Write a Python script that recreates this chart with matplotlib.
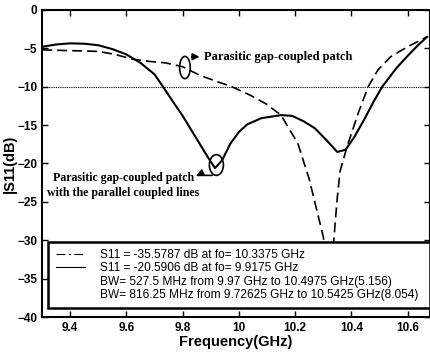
import matplotlib.pyplot as plt
from matplotlib.lines import Line2D
from matplotlib.patches import Ellipse

# Parasitic gap-coupled patch (dashed)
freq_gap = [9.30, 9.40, 9.50, 9.56, 9.62, 9.68, 9.74, 9.80, 9.86, 9.92, 9.975,
            10.04, 10.095, 10.15, 10.21, 10.25, 10.28, 10.30, 10.312, 10.322,
            10.332, 10.342, 10.35, 10.36, 10.385, 10.425, 10.46, 10.495,
            10.54, 10.60, 10.67]
s11_gap = [-5.2, -5.3, -5.4, -5.8, -6.4, -6.7, -6.9, -7.4, -8.5, -9.3, -10.0,
           -11.1, -12.2, -13.7, -17.4, -22.0, -26.5, -29.5, -32.5, -35.6,
           -33.0, -28.0, -24.5, -21.0, -17.8, -13.4, -10.0, -7.8,
           -6.1, -4.8, -3.5]

# Parasitic gap-coupled patch with parallel coupled lines (solid)
freq_pcl = [9.30, 9.35, 9.40, 9.45, 9.50, 9.55, 9.60, 9.65, 9.70, 9.73, 9.77,
            9.80, 9.85, 9.89, 9.915, 9.94, 9.97, 10.00, 10.03, 10.08, 10.15,
            10.19, 10.23, 10.27, 10.31, 10.35, 10.38, 10.41, 10.45, 10.48,
            10.51, 10.56, 10.60, 10.64, 10.67]
s11_pcl = [-4.8, -4.5, -4.35, -4.4, -4.6, -5.1, -5.8, -6.9, -8.4, -10.0, -12.2,
           -13.8, -16.8, -19.2, -20.6, -19.6, -17.4, -15.9, -14.9, -14.1, -13.7,
           -13.8, -14.5, -15.4, -16.9, -18.5, -18.2, -16.6, -14.0, -11.9,
           -10.0, -7.6, -6.0, -4.5, -3.5]

legend_labels = [
    "S11 = -35.5787 dB at fo= 10.3375 GHz",
    "S11 = -20.5906 dB at fo= 9.9175 GHz",
    "BW= 527.5 MHz from 9.97 GHz to 10.4975 GHz(5.156)",
    "BW= 816.25 MHz from 9.72625 GHz to 10.5425 GHz(8.054)",
]
x_ticks = [9.4, 9.6, 9.8, 10, 10.2, 10.4, 10.6]
x_ticklabels = ["9.4", "9.6", "9.8", "10", "10.2", "10.4", "10.6"]
y_ticks = [0, -5, -10, -15, -20, -25, -30, -35, -40]

plt.rcParams["font.family"] = ["Liberation Sans", "DejaVu Sans"]

fig = plt.figure(figsize=(4.3, 3.55), dpi=100)
ax = fig.add_axes([0.098, 0.107, 0.902, 0.865])

ax.plot(freq_gap, s11_gap, color="black", lw=1.2, linestyle=(0, (6, 3)))
ax.plot(freq_pcl, s11_pcl, color="black", lw=1.5)
ax.axhline(-10, color="black", lw=0.8, linestyle=(0, (1, 1)))

ax.set_xlim(9.3, 10.68)
ax.set_ylim(-40, 0)
ax.set_xticks(x_ticks)
ax.set_xticklabels(x_ticklabels)
ax.set_yticks(y_ticks)
ax.tick_params(direction="in", top=True, right=True, labelsize=8.5, length=4, width=1)
for lab in ax.get_xticklabels() + ax.get_yticklabels():
    lab.set_fontweight("bold")
for sp in ax.spines.values():
    sp.set_linewidth(1.5)

ax.set_xlabel("Frequency(GHz)", fontsize=10.5, fontweight="bold", labelpad=1)
ax.set_ylabel("|S11(dB)", fontsize=10.5, fontweight="bold", labelpad=0)

# annotations
serif = dict(fontweight="bold", family="Liberation Serif", va="center")
ax.add_patch(Ellipse((9.808, -7.5), 0.038, 2.9, fill=False, ec="black", lw=1.2))
ax.annotate("", xy=(9.87, -6.1), xytext=(9.822, -6.1),
            arrowprops=dict(arrowstyle="-|>", color="black", lw=1.2))
ax.text(9.875, -6.1, "Parasitic gap-coupled patch", fontsize=9, ha="left", **serif)

ax.add_patch(Ellipse((9.92, -20.2), 0.05, 2.7, fill=False, ec="black", lw=1.2))
ax.annotate("", xy=(9.843, -21.9), xytext=(9.915, -21.55),
            arrowprops=dict(arrowstyle="-|>", color="black", lw=1.2,
                            connectionstyle="angle,angleA=0,angleB=90,rad=3"))
ax.text(9.84, -21.9, "Parasitic gap-coupled patch", fontsize=8.6, ha="right", **serif)
ax.text(9.317, -23.8, "with the parallel coupled lines", fontsize=8.6, ha="left", **serif)

handles = [
    Line2D([], [], color="black", lw=0.8, linestyle=(0, (8, 3, 2, 3))),
    Line2D([], [], color="black", lw=0.8),
    Line2D([], [], color="none"),
    Line2D([], [], color="none"),
]
leg = ax.legend(handles, legend_labels, loc="lower left",
                bbox_to_anchor=(0.016, 0.028, 0.984, 0.2), mode="expand",
                fontsize=8.6, frameon=True,
                fancybox=False, framealpha=1, edgecolor="black",
                handlelength=2.5, handletextpad=1.2, labelspacing=0.12,
                borderpad=0.6, borderaxespad=0)
leg.get_frame().set_linewidth(1.8)

fig.savefig("out.png", dpi=100)
